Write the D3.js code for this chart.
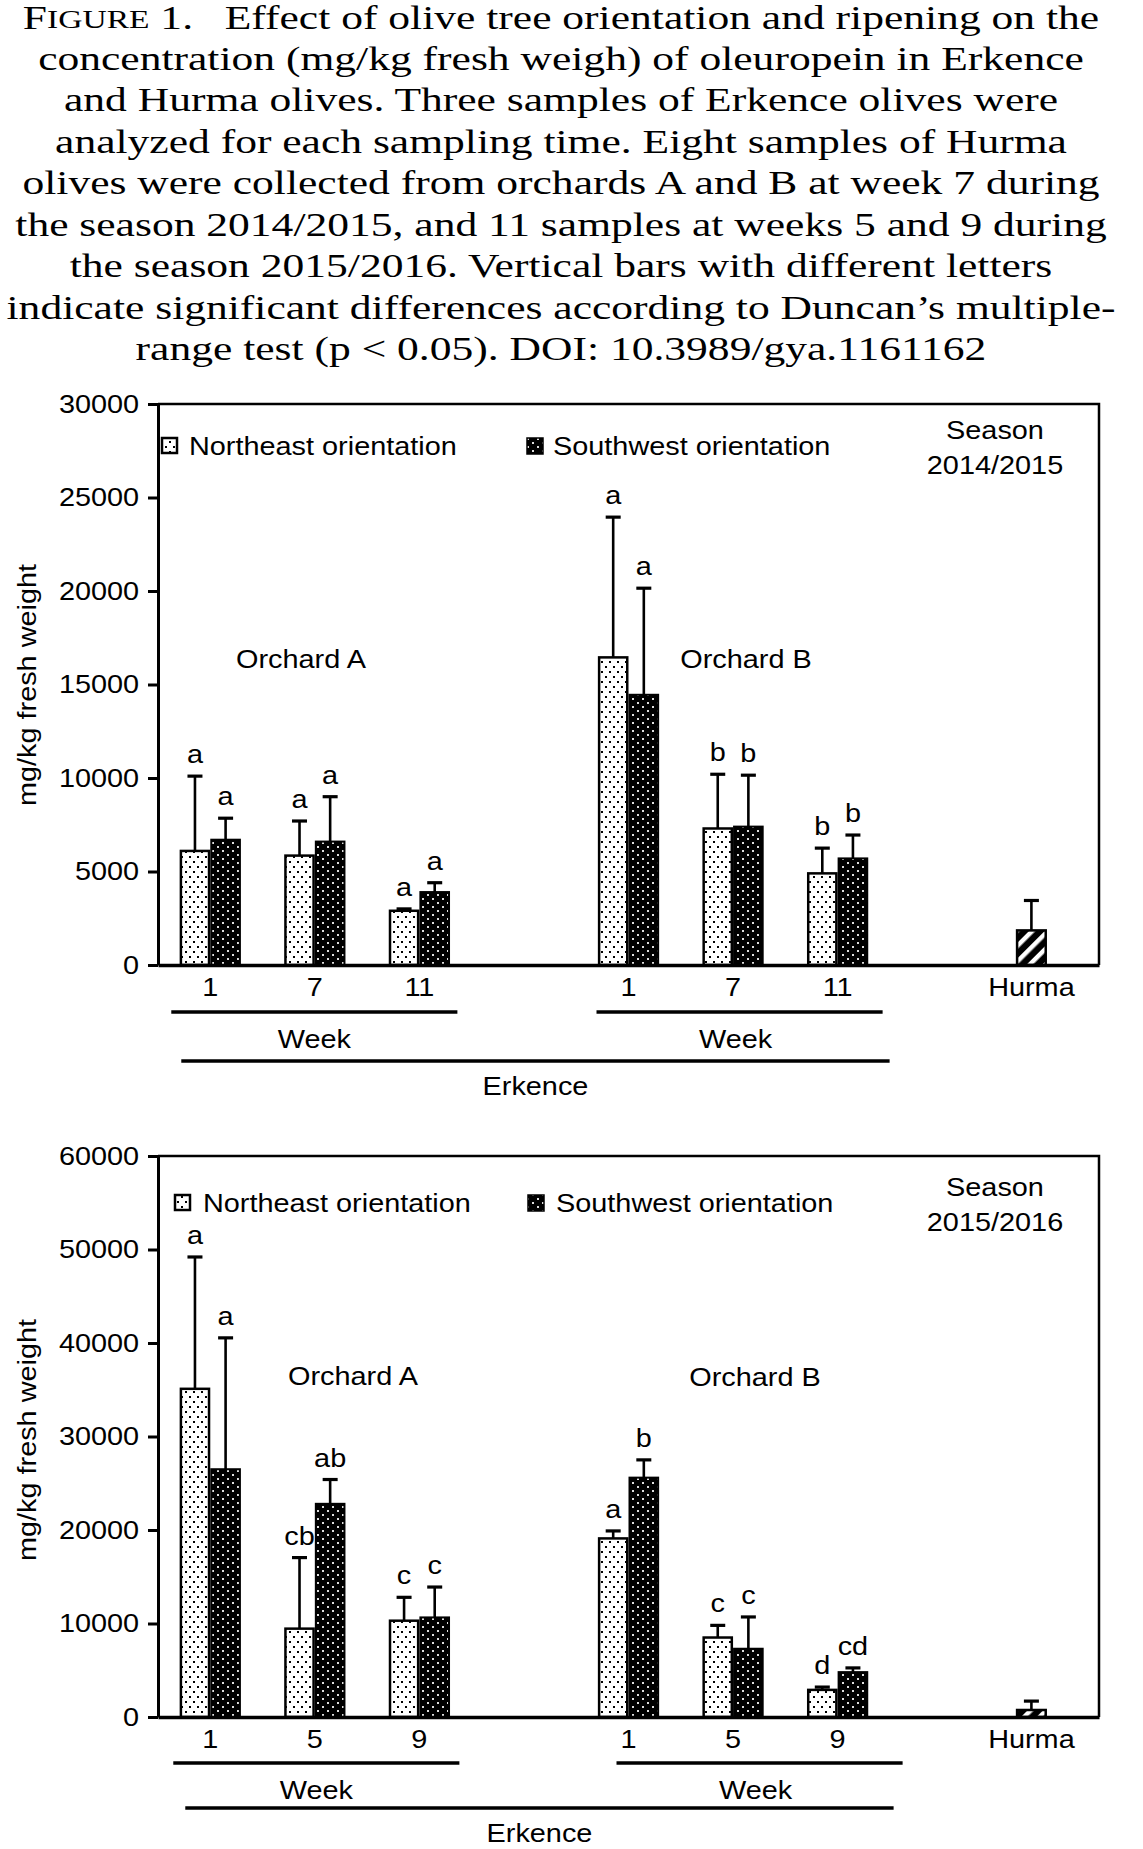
<!DOCTYPE html>
<html>
<head>
<meta charset="utf-8">
<script src="https://cdn.jsdelivr.net/npm/d3@7"></script>
<style>
  body { margin: 0; background: #fff; }
  svg { display: block; }
  text { font-family: "Liberation Sans", Arial, Helvetica, sans-serif; fill: #000; }
  .cap text { font-family: "Liberation Serif", "Times New Roman", serif; }
</style>
</head>
<body>
<svg id="fig" width="1143" height="1849"></svg>
<script>
// ---------------- DATA ----------------
const captionLines = [
  "concentration (mg/kg fresh weigh) of oleuropein in Erkence",
  "and Hurma olives. Three samples of Erkence olives were",
  "analyzed for each sampling time. Eight samples of Hurma",
  "olives were collected from orchards A and B at week 7 during",
  "the season 2014/2015, and 11 samples at weeks 5 and 9 during",
  "the season 2015/2016. Vertical bars with different letters",
  "indicate significant differences according to Duncan\u2019s multiple-",
  "range test (p < 0.05). DOI: 10.3989/gya.1161162"
];
const captionFirstLine = "Effect of olive tree orientation and ripening on the";

const slots = ["A1", "A2", "A3", "gapAB", "B1", "B2", "B3", "gapBH", "Hurma"];
const erkenceSlots = ["A1", "A2", "A3", "B1", "B2", "B3"];
const seriesNames = ["Northeast orientation", "Southwest orientation"];

// Season 2014/2015
const weeksTop = ["1", "7", "11", "1", "7", "11"];
const yTicksTop = [0, 5000, 10000, 15000, 20000, 25000, 30000];
const northeastTop = [6100, 5850, 2900, 16450, 7300, 4900];
const northeastTopSD = [4000, 1850, 100, 7500, 2900, 1350];
const southwestTop = [6700, 6600, 3900, 14450, 7400, 5700];
const southwestTopSD = [1150, 2400, 500, 5700, 2750, 1250];
const northeastTopLetters = ["a", "a", "a", "a", "b", "b"];
const southwestTopLetters = ["a", "a", "a", "a", "b", "b"];
const hurmaTop = [1850];
const hurmaTopSD = [1600];

// Season 2015/2016
const weeksBottom = ["1", "5", "9", "1", "5", "9"];
const yTicksBottom = [0, 10000, 20000, 30000, 40000, 50000, 60000];
const northeastBottom = [35100, 9450, 10300, 19100, 8500, 2900];
const northeastBottomSD = [14100, 7600, 2500, 800, 1300, 300];
const southwestBottom = [26500, 22800, 10650, 25600, 7300, 4800];
const southwestBottomSD = [14050, 2600, 3250, 1900, 3400, 450];
const northeastBottomLetters = ["a", "cb", "c", "a", "c", "d"];
const southwestBottomLetters = ["a", "ab", "c", "b", "c", "cd"];
const hurmaBottom = [750];
const hurmaBottomSD = [950];

// ---------------- DRAWING ----------------
const svg = d3.select("#fig");
const SX = 1.11; // horizontal widening of the sans glyphs
const FS = 26;

function label(g, x, y, str, anchor = "start", rotate = 0, size = FS) {
  return g.append("text")
    .attr("transform", `translate(${x},${y})` + (rotate ? ` rotate(${rotate})` : "") + ` scale(${SX},1)`)
    .attr("text-anchor", anchor)
    .attr("font-size", size)
    .text(str);
}

// patterns
const defs = svg.append("defs");
const pNE = defs.append("pattern").attr("id", "patNE").attr("patternUnits", "userSpaceOnUse")
  .attr("width", 8).attr("height", 10);
pNE.append("rect").attr("width", 8).attr("height", 10).attr("fill", "#fff");
pNE.append("rect").attr("x", 1).attr("y", 1).attr("width", 2).attr("height", 2).attr("fill", "#000");
pNE.append("rect").attr("x", 5).attr("y", 6).attr("width", 2).attr("height", 2).attr("fill", "#000");

const pSW = defs.append("pattern").attr("id", "patSW").attr("patternUnits", "userSpaceOnUse")
  .attr("width", 10).attr("height", 8);
pSW.append("rect").attr("width", 10).attr("height", 8).attr("fill", "#000");
pSW.append("rect").attr("x", 2).attr("y", 2).attr("width", 2).attr("height", 2).attr("fill", "#ddd");
pSW.append("rect").attr("x", 7).attr("y", 6).attr("width", 2).attr("height", 2).attr("fill", "#ddd");

const pH = defs.append("pattern").attr("id", "patH").attr("patternUnits", "userSpaceOnUse")
  .attr("width", 11).attr("height", 11).attr("patternTransform", "rotate(45)");
pH.append("rect").attr("width", 11).attr("height", 11).attr("fill", "#000");
pH.append("rect").attr("x", 0).attr("y", 0).attr("width", 4.5).attr("height", 11).attr("fill", "#fff");

// caption
const cap = svg.append("g").attr("class", "cap");
const capSize = 33, capLead = 41.5, capY0 = 28.5;
const t1 = cap.append("text").attr("x", 0).attr("y", capY0).attr("text-anchor", "middle").attr("font-size", capSize);
t1.append("tspan").text("F");
t1.append("tspan").attr("font-size", capSize * 0.77).text("IGURE");
t1.append("tspan").text(" 1.");
t1.append("tspan").attr("dx", 24).text(captionFirstLine);
const capTexts = captionLines.map((s, i) =>
  cap.append("text").attr("x", 0).attr("y", capY0 + (i + 1) * capLead)
    .attr("text-anchor", "middle").attr("font-size", capSize).text(s));
const measured = capTexts[0].node().getComputedTextLength();
const capScale = measured > 0 ? 1046 / measured : 1.3;
cap.attr("transform", `translate(561,0) scale(${capScale},1)`);

const left = 158, right = 1099;
const x = d3.scaleBand().domain(slots).range([left, right]).paddingInner(0).paddingOuter(0);
const step = x.bandwidth();
const barW = step * 0.293;
const cx = s => x(s) + step / 2;

function panel(cfg) {
  const g = svg.append("g");
  const y = d3.scaleLinear().domain([0, cfg.yMax]).range([cfg.zero, cfg.top]);

  // frame (top and right)
  g.append("path")
    .attr("d", `M${left},${cfg.top}H${right}V${cfg.zero}`)
    .attr("fill", "none").attr("stroke", "#000").attr("stroke-width", 2.5);

  // bars
  const ne = erkenceSlots.map((s, i) => ({ s, v: cfg.ne[i], sd: cfg.neSD[i], l: cfg.neL[i], side: -1 }));
  const sw = erkenceSlots.map((s, i) => ({ s, v: cfg.sw[i], sd: cfg.swSD[i], l: cfg.swL[i], side: 1 }));
  const hu = cfg.hurma.map((v, i) => ({ s: "Hurma", v, sd: cfg.hurmaSD[i], l: "", side: -1 }));

  const barX = d => d.side < 0 ? cx(d.s) - barW : cx(d.s);
  const barC = d => barX(d) + barW / 2;

  g.selectAll(".ne").data(ne).join("rect")
    .attr("x", d => barX(d) + 1.25).attr("width", barW - 2.5)
    .attr("y", d => y(d.v)).attr("height", d => y(0) - y(d.v))
    .attr("fill", "url(#patNE)").attr("stroke", "#000").attr("stroke-width", 2.5);
  g.selectAll(".sw").data(sw).join("rect")
    .attr("x", d => barX(d) + 1).attr("width", barW - 2)
    .attr("y", d => y(d.v)).attr("height", d => y(0) - y(d.v))
    .attr("fill", "url(#patSW)").attr("stroke", "#000").attr("stroke-width", 2);
  g.selectAll(".hu").data(hu).join("rect")
    .attr("x", d => barX(d) + 1).attr("width", barW - 2)
    .attr("y", d => y(d.v)).attr("height", d => y(0) - y(d.v))
    .attr("fill", "url(#patH)").attr("stroke", "#000").attr("stroke-width", 2.5);

  // error bars
  const all = ne.concat(sw, hu);
  g.selectAll(".eb").data(all).join("line")
    .attr("x1", barC).attr("x2", barC)
    .attr("y1", d => y(d.v)).attr("y2", d => y(d.v + d.sd))
    .attr("stroke", "#000").attr("stroke-width", 2.6);
  g.selectAll(".ec").data(all).join("line")
    .attr("x1", d => barC(d) - 7.5).attr("x2", d => barC(d) + 7.5)
    .attr("y1", d => y(d.v + d.sd)).attr("y2", d => y(d.v + d.sd))
    .attr("stroke", "#000").attr("stroke-width", 3.2);

  // significance letters
  all.filter(d => d.l).forEach(d => label(g, barC(d), y(d.v + d.sd) - 13, d.l, "middle"));

  // y axis
  const ya = g.append("g").attr("transform", `translate(${left},0)`)
    .call(d3.axisLeft(y).tickValues(cfg.yTicks).tickFormat(d3.format("d")).tickSize(10).tickSizeOuter(0).tickPadding(7));
  ya.select(".domain").attr("stroke-width", 3);
  ya.selectAll(".tick line").attr("stroke-width", 3);
  ya.selectAll(".tick text").attr("font-size", FS).attr("transform", `scale(${SX},1)`)
    .attr("font-family", "Liberation Sans, Arial, sans-serif");

  // x axis (zero line + week labels)
  const xa = g.append("g").attr("transform", `translate(0,${cfg.zero})`)
    .call(d3.axisBottom(x).tickValues(erkenceSlots)
      .tickFormat(s => cfg.weeks[erkenceSlots.indexOf(s)])
      .tickSize(0).tickSizeOuter(0).tickPadding(13));
  xa.select(".domain").attr("stroke-width", 3.5);
  xa.selectAll(".tick text").attr("font-size", FS).attr("transform", `scale(${SX},1)`)
    .attr("font-family", "Liberation Sans, Arial, sans-serif");
  label(g, barC(hu[0]), cfg.zero + 13 + 0.71 * FS, "Hurma", "middle");

  // y title
  label(g, 36, cfg.titleY, "mg/kg fresh weight", "middle", -90);

  // legend
  g.append("rect").attr("x", cfg.leg[0]).attr("y", cfg.legY).attr("width", 15).attr("height", 15)
    .attr("fill", "url(#patNE)").attr("stroke", "#000").attr("stroke-width", 2.5);
  label(g, cfg.leg[1], cfg.legY + 17, seriesNames[0]);
  g.append("rect").attr("x", cfg.leg[2]).attr("y", cfg.legY).attr("width", 16).attr("height", 16)
    .attr("fill", "url(#patSW)").attr("stroke", "#000").attr("stroke-width", 1.5);
  label(g, cfg.leg[3], cfg.legY + 17, seriesNames[1]);

  // season
  label(g, 995, cfg.seasonY, "Season", "middle");
  label(g, 995, cfg.seasonY + 35, cfg.season, "middle");

  // orchards
  label(g, cfg.orchA[0], cfg.orchA[1], "Orchard A", "middle");
  label(g, cfg.orchB[0], cfg.orchB[1], "Orchard B", "middle");

  // week / Erkence brackets
  const lines = [
    [cx("A1") + cfg.wA[0], cx("A3") + cfg.wA[1], cfg.weekLineY],
    [cx("B1") + cfg.wB[0], cx("B3") + cfg.wB[1], cfg.weekLineY],
    [cx("A1") + cfg.erk[0], cx("B3") + cfg.erk[1], cfg.erkLineY]
  ];
  lines.forEach(([x1, x2, yy]) => {
    g.append("line").attr("x1", x1).attr("x2", x2).attr("y1", yy).attr("y2", yy)
      .attr("stroke", "#000").attr("stroke-width", 3.5);
  });
  label(g, (lines[0][0] + lines[0][1]) / 2, cfg.weekLineY + 36, "Week", "middle");
  label(g, (lines[1][0] + lines[1][1]) / 2 - 4, cfg.weekLineY + 36, "Week", "middle");
  label(g, (lines[2][0] + lines[2][1]) / 2, cfg.erkLineY + 34, "Erkence", "middle");
}

panel({
  top: 404, zero: 965, yMax: 30000, yTicks: yTicksTop, weeks: weeksTop,
  ne: northeastTop, neSD: northeastTopSD, neL: northeastTopLetters,
  sw: southwestTop, swSD: southwestTopSD, swL: southwestTopLetters,
  hurma: hurmaTop, hurmaSD: hurmaTopSD,
  titleY: 685, leg: [162, 189, 527, 553], legY: 438,
  season: "2014/2015", seasonY: 439,
  orchA: [301, 668], orchB: [746, 668],
  weekLineY: 1012, erkLineY: 1061,
  wA: [-39, 38], wB: [-32, 45], erk: [-29, 52]
});

panel({
  top: 1156, zero: 1717, yMax: 60000, yTicks: yTicksBottom, weeks: weeksBottom,
  ne: northeastBottom, neSD: northeastBottomSD, neL: northeastBottomLetters,
  sw: southwestBottom, swSD: southwestBottomSD, swL: southwestBottomLetters,
  hurma: hurmaBottom, hurmaSD: hurmaBottomSD,
  titleY: 1440, leg: [175, 203, 528, 556], legY: 1195,
  season: "2015/2016", seasonY: 1196,
  orchA: [353, 1385], orchB: [755, 1386],
  weekLineY: 1763, erkLineY: 1808,
  wA: [-37, 40], wB: [-12, 65], erk: [-25, 56]
});
</script>
</body>
</html>
